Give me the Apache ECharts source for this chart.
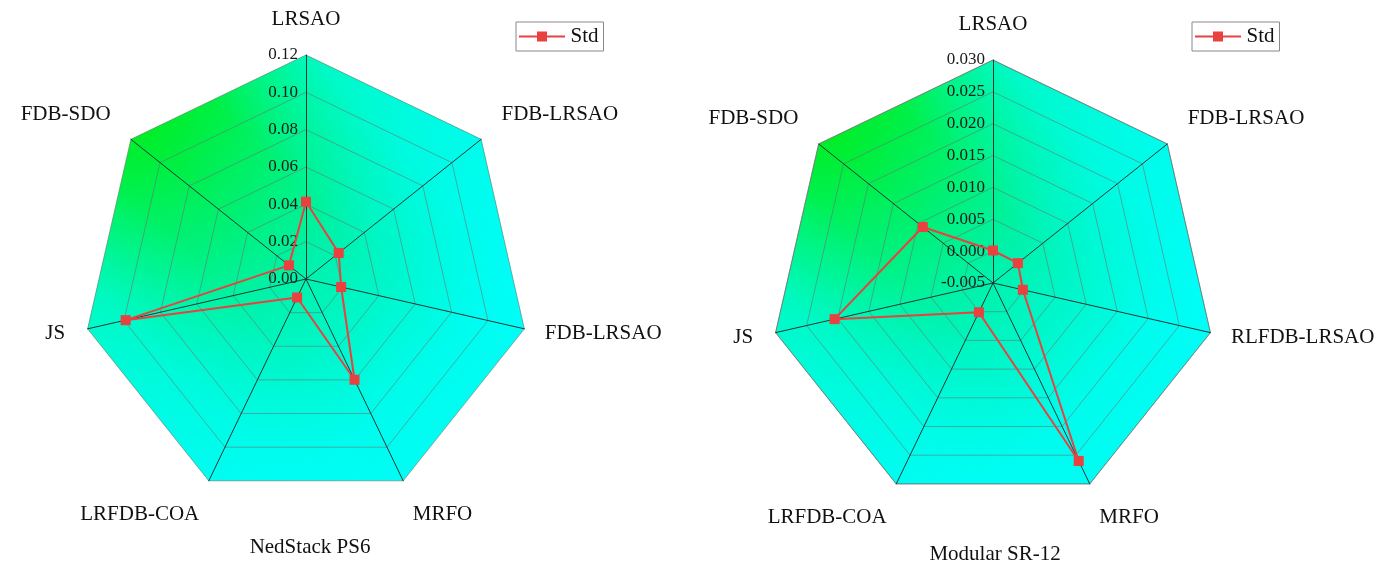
<!DOCTYPE html>
<html>
<head>
<meta charset="utf-8">
<title>Std radar</title>
<script src="https://cdn.jsdelivr.net/npm/echarts@6/dist/echarts.min.js"></script>
<style>
    html, body { margin: 0; padding: 0; background: #fff; }
    #chart { width: 1386px; height: 572px; }
</style>
</head>
<body>
<div id="chart"></div>
<script>
// indicators listed from the top, going counter-clockwise (echarts order)
const leftNames = ['LRSAO', 'FDB-SDO', 'JS', 'LRFDB-COA', 'MRFO', 'FDB-LRSAO', 'FDB-LRSAO'];
const leftStd = [0.0414, 0.0117, 0.0991, 0.0110, 0.0599, 0.0193, 0.0224];
const leftMin = 0;
const leftMax = 0.12;

const rightNames = ['LRSAO', 'FDB-SDO', 'JS', 'LRFDB-COA', 'MRFO', 'RLFDB-LRSAO', 'FDB-LRSAO'];
const rightStd = [0.0001, 0.0091, 0.0205, 0.0001, 0.0260, -0.0002, 0.0000];
const rightMin = -0.005;
const rightMax = 0.03;

const titles = ['NedStack PS6', 'Modular SR-12'];

// label placement per spoke (top, upper-left, left, lower-left, lower-right, right, upper-right)
const nameGaps = [25, 26, 23, 22, 22, 21, 26];
const nameRich = ['mid', 'up', 'mid', 'down', 'down', 'mid', 'up'];

const font = 'Liberation Serif';
const red = '#e8413f';

// base fill: green in the upper-left corner fading to cyan
const baseFill = {
    type: 'linear', x: 0, y: 0, x2: 1, y2: 1,
    colorStops: [
        { offset: 0, color: 'rgb(0,235,20)' },
        { offset: 0.15, color: 'rgb(0,238,35)' },
        { offset: 0.5, color: 'rgb(0,242,170)' },
        { offset: 0.75, color: 'rgb(0,252,235)' },
        { offset: 1, color: 'rgb(0,255,255)' }
    ]
};
// cyan veil on both sides of the green band
const veil = {
    type: 'linear', x: 1, y: 0, x2: 0, y2: 1,
    colorStops: [
        { offset: 0, color: 'rgba(0,255,255,0.85)' },
        { offset: 0.25, color: 'rgba(0,255,255,0.65)' },
        { offset: 0.42, color: 'rgba(0,255,255,0.05)' },
        { offset: 0.53, color: 'rgba(0,255,255,0)' },
        { offset: 0.62, color: 'rgba(0,255,255,0.1)' },
        { offset: 0.77, color: 'rgba(0,255,255,0.62)' },
        { offset: 1, color: 'rgba(0,255,255,0.9)' }
    ]
};

function indicators(names, min, max, digits) {
    return names.map((n, i) => {
        const ind = { name: n, min: min, max: max, nameGap: nameGaps[i], pos: nameRich[i] };
        if (i === 0) {
            ind.axisLabel = {
                show: true,
                fontFamily: font,
                fontSize: 17,
                color: '#1a1a1a',
                formatter: v => (Math.abs(v) < 1e-9 ? 0 : v).toFixed(digits)
            };
        }
        return ind;
    });
}

const nameStyle = { fontFamily: font, fontSize: 21, color: '#111' };

function radar(center, radius, names, min, max, digits) {
    return {
        center: center,
        radius: radius,
        shape: 'polygon',
        splitNumber: Math.round((max - min) / (digits === 2 ? 0.02 : 0.005)),
        indicator: indicators(names, min, max, digits),
        axisName: {
            color: '#111', fontFamily: font, fontSize: 21,
            formatter: (name, ind) => '{' + ind.pos + '|' + name + '}',
            rich: {
                mid: nameStyle,
                up: Object.assign({ padding: [0, 0, 18, 0] }, nameStyle),
                down: Object.assign({ padding: [28, 0, 0, 0] }, nameStyle)
            }
        },
        axisLine: { lineStyle: { color: '#1f3535', width: 1 } },
        splitLine: { lineStyle: { color: 'rgba(110,110,110,0.55)', width: 1 } },
        splitArea: { show: false },
        axisLabel: { show: false },
        axisTick: { show: false }
    };
}

function bgSeries(idx, names, max, color) {
    return {
        type: 'radar',
        name: 'bg',
        radarIndex: idx,
        silent: true,
        z: -1,
        symbol: 'none',
        lineStyle: { width: 0 },
        areaStyle: { color: color, opacity: 1 },
        data: [{ value: names.map(() => max) }]
    };
}

function stdSeries(idx, values) {
    return {
        type: 'radar',
        name: 'Std',
        radarIndex: idx,
        symbol: 'rect',
        symbolSize: 10,
        itemStyle: { color: red },
        lineStyle: { color: red, width: 2 },
        data: [{ value: values, name: 'Std' }]
    };
}

function legend(left) {
    return {
        data: [{ name: 'Std', icon: 'path://M0,4H18V0H28V4H46V6H28V10H18V6H0Z' }],
        left: left,
        top: 22,
        padding: [4, 5, 4, 3],
        borderColor: '#888',
        borderWidth: 1,
        itemWidth: 47,
        itemHeight: 10,
        itemStyle: { color: red },
        textStyle: { fontFamily: font, fontSize: 21, color: '#111' }
    };
}

const chart = echarts.init(document.getElementById('chart'));
chart.setOption({
    backgroundColor: '#fff',
    animation: false,
    title: [
        { text: titles[0], left: 305, top: 532, textAlign: 'center',
          textStyle: { fontFamily: font, fontSize: 21, fontWeight: 'normal', color: '#111' } },
        { text: titles[1], left: 990, top: 539, textAlign: 'center',
          textStyle: { fontFamily: font, fontSize: 21, fontWeight: 'normal', color: '#111' } }
    ],
    legend: [legend(516), legend(1192)],
    radar: [
        radar([306, 279], 224, leftNames, leftMin, leftMax, 2),
        radar([993, 283], 223, rightNames, rightMin, rightMax, 3)
    ],
    series: [
        bgSeries(0, leftNames, leftMax, baseFill),
        bgSeries(0, leftNames, leftMax, veil),
        bgSeries(1, rightNames, rightMax, baseFill),
        bgSeries(1, rightNames, rightMax, veil),
        stdSeries(0, leftStd),
        stdSeries(1, rightStd)
    ]
});
</script>
</body>
</html>
